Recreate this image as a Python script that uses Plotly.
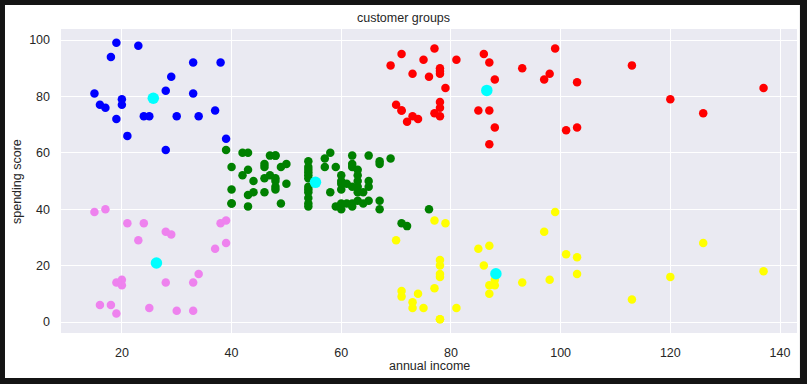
import plotly.graph_objects as go

# Mall customers: annual income (k$) and spending score (1-100)
income = [
    15, 15, 16, 16, 17, 17, 18, 18, 19, 19,
    19, 19, 20, 20, 20, 20, 21, 21, 23, 23,
    24, 24, 25, 25, 28, 28, 28, 28, 29, 29,
    30, 30, 33, 33, 33, 33, 34, 34, 37, 37,
    38, 38, 39, 39, 39, 39, 40, 40, 40, 40,
    42, 42, 43, 43, 43, 43, 44, 44, 46, 46,
    46, 46, 47, 47, 48, 48, 48, 48, 48, 48,
    49, 49, 50, 50, 54, 54, 54, 54, 54, 54,
    54, 54, 54, 54, 54, 54, 57, 57, 58, 58,
    59, 59, 60, 60, 60, 60, 60, 60, 61, 61,
    62, 62, 62, 62, 62, 62, 63, 63, 63, 63,
    63, 63, 64, 64, 65, 65, 65, 65, 67, 67,
    67, 67, 69, 69, 70, 70, 71, 71, 71, 71,
    71, 71, 72, 72, 73, 73, 73, 73, 74, 74,
    75, 75, 76, 76, 77, 77, 77, 77, 78, 78,
    78, 78, 78, 78, 78, 78, 78, 78, 78, 78,
    79, 79, 81, 81, 85, 85, 86, 86, 87, 87,
    87, 87, 87, 87, 88, 88, 88, 88, 93, 93,
    97, 97, 98, 98, 99, 99, 101, 101, 103, 103,
    103, 103, 113, 113, 120, 120, 126, 126, 137, 137,
]
score = [
    39, 81, 6, 77, 40, 76, 6, 94, 3, 72,
    14, 99, 15, 77, 13, 79, 35, 66, 29, 98,
    35, 73, 5, 73, 14, 82, 32, 61, 31, 87,
    4, 73, 4, 92, 14, 81, 17, 73, 26, 75,
    35, 92, 36, 61, 28, 65, 55, 47, 42, 42,
    52, 60, 54, 60, 45, 41, 50, 46, 51, 46,
    56, 55, 52, 59, 51, 59, 50, 48, 59, 47,
    55, 42, 49, 56, 47, 54, 53, 48, 52, 42,
    51, 55, 41, 44, 57, 46, 58, 55, 60, 46,
    55, 41, 49, 40, 42, 52, 47, 50, 42, 49,
    41, 48, 59, 55, 56, 42, 50, 46, 43, 48,
    52, 54, 42, 46, 48, 50, 43, 59, 43, 57,
    56, 40, 58, 91, 29, 77, 35, 95, 11, 75,
    9, 75, 34, 71, 5, 88, 7, 73, 10, 72,
    5, 93, 40, 87, 12, 97, 36, 74, 22, 90,
    17, 88, 20, 76, 16, 89, 1, 78, 1, 73,
    35, 83, 5, 93, 26, 75, 20, 95, 27, 63,
    13, 75, 10, 92, 13, 86, 15, 69, 14, 90,
    32, 86, 15, 88, 39, 97, 24, 68, 17, 85,
    23, 69, 8, 91, 16, 79, 28, 74, 18, 83,
]
cluster = [
    "V", "B", "V", "B", "V", "B", "V", "B", "V", "B",
    "V", "B", "V", "B", "V", "B", "V", "B", "V", "B",
    "V", "B", "V", "B", "V", "B", "V", "B", "V", "B",
    "V", "B", "V", "B", "V", "B", "V", "B", "V", "B",
    "V", "B", "V", "G", "V", "B", "G", "G", "G", "G",
    "G", "G", "G", "G", "G", "G", "G", "G", "G", "G",
    "G", "G", "G", "G", "G", "G", "G", "G", "G", "G",
    "G", "G", "G", "G", "G", "G", "G", "G", "G", "G",
    "G", "G", "G", "G", "G", "G", "G", "G", "G", "G",
    "G", "G", "G", "G", "G", "G", "G", "G", "G", "G",
    "G", "G", "G", "G", "G", "G", "G", "G", "G", "G",
    "G", "G", "G", "G", "G", "G", "G", "G", "G", "G",
    "G", "G", "G", "R", "Y", "R", "G", "R", "Y", "R",
    "Y", "R", "G", "R", "Y", "R", "Y", "R", "Y", "R",
    "Y", "R", "G", "R", "Y", "R", "Y", "R", "Y", "R",
    "Y", "R", "Y", "R", "Y", "R", "Y", "R", "Y", "R",
    "Y", "R", "Y", "R", "Y", "R", "Y", "R", "Y", "R",
    "Y", "R", "Y", "R", "Y", "R", "Y", "R", "Y", "R",
    "Y", "R", "Y", "R", "Y", "R", "Y", "R", "Y", "R",
    "Y", "R", "Y", "R", "Y", "R", "Y", "R", "Y", "R",
]
cluster_names = ["G", "R", "B", "Y", "V"]
cluster_colors = {"G": "green", "R": "red", "B": "blue", "Y": "yellow", "V": "violet"}

centroid_income = [55.30, 86.54, 25.73, 88.20, 26.30]
centroid_score = [49.52, 82.13, 79.36, 17.11, 20.91]

x_ticks = [20, 40, 60, 80, 100, 120, 140]
y_ticks = [0, 20, 40, 60, 80, 100]

fig = go.Figure()
for name in cluster_names:
    xs = [x for x, c in zip(income, cluster) if c == name]
    ys = [y for y, c in zip(score, cluster) if c == name]
    fig.add_trace(go.Scatter(
        x=xs, y=ys, mode="markers",
        marker=dict(size=8.5, color=cluster_colors[name], line=dict(width=0)),
        showlegend=False, hoverinfo="x+y",
    ))
fig.add_trace(go.Scatter(
    x=centroid_income, y=centroid_score, mode="markers",
    marker=dict(size=11.5, color="cyan", line=dict(width=0)),
    showlegend=False,
))

txt = "#262626"
fs = 12.5
fig.update_layout(
    width=807, height=384,
    margin=dict(l=61, r=10, t=29, b=51, autoexpand=False),
    paper_bgcolor="#141414",
    plot_bgcolor="rgba(0,0,0,0)",
    font=dict(family="Liberation Sans, Arial, sans-serif", size=fs, color=txt),
    title=dict(text="customer groups", x=0.5, xanchor="center", y=0.953, yanchor="middle",
               font=dict(size=fs, color=txt)),
    shapes=[
        dict(type="rect", xref="paper", yref="paper",
             x0=-0.0761, x1=1.004, y0=-0.148, y1=1.079,
             fillcolor="white", line=dict(width=0), layer="below"),
        dict(type="rect", xref="paper", yref="paper",
             x0=0, x1=1, y0=0, y1=1,
             fillcolor="#EAEAF2", line=dict(width=0), layer="below"),
    ],
    annotations=[
        dict(text="annual income", xref="paper", yref="paper", x=0.5, y=-0.1086,
             xanchor="center", yanchor="middle", showarrow=False,
             font=dict(size=fs, color=txt)),
        dict(text="spending score", xref="paper", yref="paper", x=-0.0598, y=0.5,
             xanchor="center", yanchor="middle", textangle=-90, showarrow=False,
             font=dict(size=fs, color=txt)),
    ],
)
fig.update_xaxes(
    range=[8.9, 143.1], tickvals=x_ticks, showgrid=True, gridcolor="white", gridwidth=1,
    zeroline=False, showline=False, ticks="", ticklabelstandoff=10, automargin=False,
    tickfont=dict(size=fs, color=txt),
)
fig.update_yaxes(
    range=[-3.9, 103.9], tickvals=y_ticks, showgrid=True, gridcolor="white", gridwidth=1,
    zeroline=False, showline=False, ticks="", ticklabelstandoff=10, automargin=False,
    tickfont=dict(size=fs, color=txt),
)

fig.write_html(
    "out.html",
    config={"displayModeBar": False},
    post_script="document.body.style.margin='0';document.body.style.overflow='hidden';",
)
